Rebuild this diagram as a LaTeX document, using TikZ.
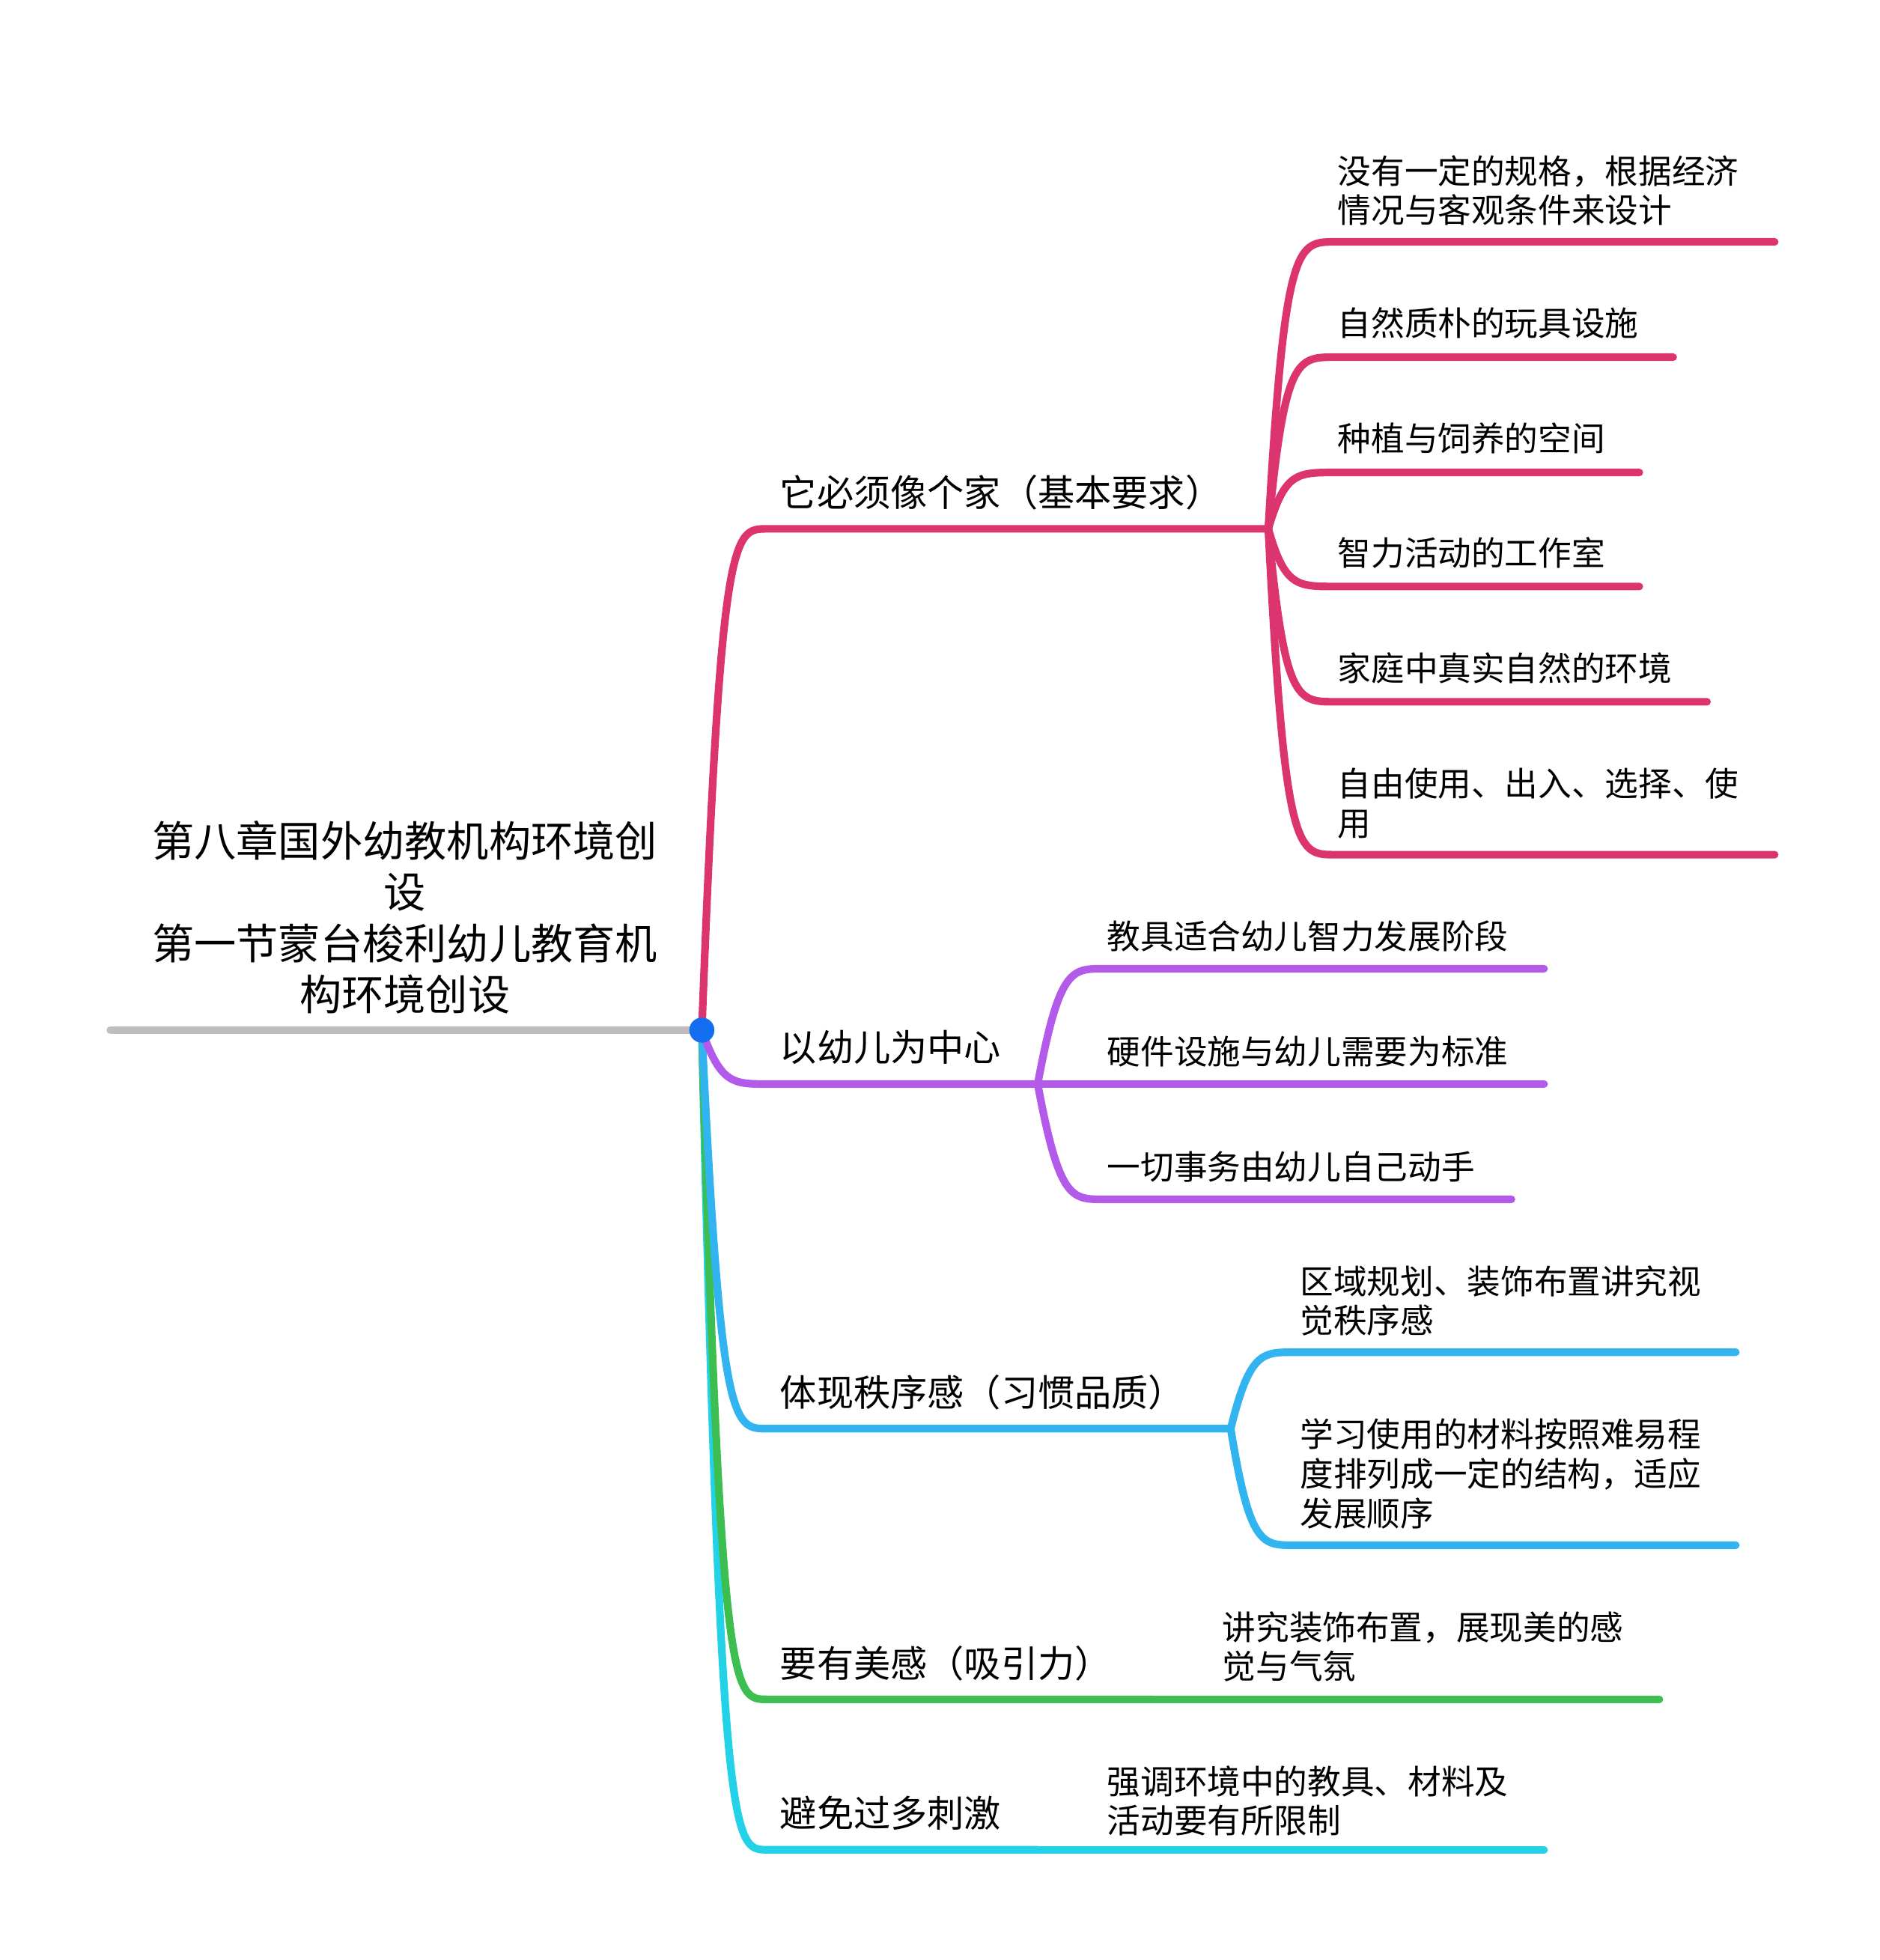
\documentclass[tikz,border=0pt]{standalone}
\usepackage{fontspec}
\newfontfamily\cjk{Noto Sans CJK SC}
\usetikzlibrary{positioning}
\definecolor{rootgray}{RGB}{190,190,190}
\definecolor{dotblue}{RGB}{20,110,240}
\definecolor{homepink}{RGB}{220,52,110}
\definecolor{kidpurple}{RGB}{180,90,235}
\definecolor{orderblue}{RGB}{50,180,240}
\definecolor{beautygreen}{RGB}{60,190,80}
\definecolor{calmcyan}{RGB}{35,210,230}

\begin{document}
\begin{tikzpicture}[x=0.01674cm,y=-0.01674cm,
    rootlabel/.style={font=\cjk\fontsize{16}{19.5}\selectfont,align=center},
    mainlabel/.style={font=\cjk\fontsize{14}{17}\selectfont,anchor=west},
    leaflabel/.style={font=\cjk\fontsize{12.7}{15}\selectfont,anchor=west,align=left},
    wire/.style={line width=2.9pt,line cap=round}]
    \useasboundingbox (0,0) rectangle (1500,1564);

    % Root
    \coordinate (rootend) at (88,822);
    \coordinate (hub) at (560,822);
    \node[rootlabel] (root) at (323,732) {第八章国外幼教机构环境创\\设\\第一节蒙台梭利幼儿教育机\\构环境创设};
    \draw[wire,rootgray] (rootend) -- (hub);

    % Branch junctions
    \coordinate (homeA) at (612,422);  \coordinate (homeB) at (1012,422);
    \coordinate (kidA) at (612,865);   \coordinate (kidB) at (828,865);
    \coordinate (orderA) at (612,1140); \coordinate (orderB) at (982,1140);
    \coordinate (beautyA) at (612,1356); \coordinate (beautyB) at (920,1356);
    \coordinate (calmA) at (612,1476);  \coordinate (calmB) at (828,1476);

    \node[mainlabel] (home) at (615,393) {它必须像个家（基本要求）};
    \node[mainlabel] (kid) at (615,836) {以幼儿为中心};
    \node[mainlabel] (order) at (615,1111) {体现秩序感（习惯品质）};
    \node[mainlabel] (beauty) at (615,1327) {要有美感（吸引力）};
    \node[mainlabel] (calm) at (615,1447) {避免过多刺激};

    % Branches from hub
    \draw[wire,calmcyan] (hub) .. controls (575,1476) and (585,1476) .. (calmA) -- (calmB);
    \draw[wire,beautygreen] (hub) .. controls (575,1356) and (585,1356) .. (beautyA) -- (beautyB);
    \draw[wire,orderblue] (hub) .. controls (575,1140) and (585,1140) .. (orderA) -- (orderB);
    \draw[wire,kidpurple] (hub) .. controls (575,865) and (585,865) .. (kidA) -- (kidB);
    \draw[wire,homepink] (hub) .. controls (575,422) and (585,422) .. (homeA) -- (homeB);

    % Leaves: home
    \node[leaflabel] (h1) at (1060,152) {没有一定的规格，根据经济\\情况与客观条件来设计};
    \node[leaflabel] (h2) at (1060,258) {自然质朴的玩具设施};
    \node[leaflabel] (h3) at (1060,350) {种植与饲养的空间};
    \node[leaflabel] (h4) at (1060,441) {智力活动的工作室};
    \node[leaflabel] (h5) at (1060,533) {家庭中真实自然的环境};
    \node[leaflabel] (h6) at (1060,641) {自由使用、出入、选择、使\\用};
    \foreach \yy/\xe in {193/1416,285/1335,377/1308,468/1308,560/1362,682/1416}
      \draw[wire,homepink] (homeB) .. controls (1025,\yy) and (1035,\yy) .. (1065,\yy) -- (\xe,\yy);

    % Leaves: kid
    \node[leaflabel] (k1) at (876,747) {教具适合幼儿智力发展阶段};
    \node[leaflabel] (k2) at (876,839) {硬件设施与幼儿需要为标准};
    \node[leaflabel] (k3) at (876,931) {一切事务由幼儿自己动手};
    \foreach \yy/\xe in {773/1232,865/1232,957/1206}
      \draw[wire,kidpurple] (kidB) .. controls (845,\yy) and (855,\yy) .. (880,\yy) -- (\xe,\yy);

    % Leaves: order
    \node[leaflabel] (o1) at (1030,1038) {区域规划、装饰布置讲究视\\觉秩序感};
    \node[leaflabel] (o2) at (1030,1176) {学习使用的材料按照难易程\\度排列成一定的结构，适应\\发展顺序};
    \foreach \yy in {1079,1233}
      \draw[wire,orderblue] (orderB) .. controls (997,\yy) and (1007,\yy) .. (1032,\yy) -- (1385,\yy);

    % Leaves: beauty and calm
    \node[leaflabel] (b1) at (968,1314) {讲究装饰布置，展现美的感\\觉与气氛};
    \draw[wire,beautygreen] (beautyB) -- (1324,1356);
    \node[leaflabel] (c1) at (876,1437) {强调环境中的教具、材料及\\活动要有所限制};
    \draw[wire,calmcyan] (calmB) -- (1232,1476);

    \fill[dotblue] (hub) circle (10);
\end{tikzpicture}
\end{document}
